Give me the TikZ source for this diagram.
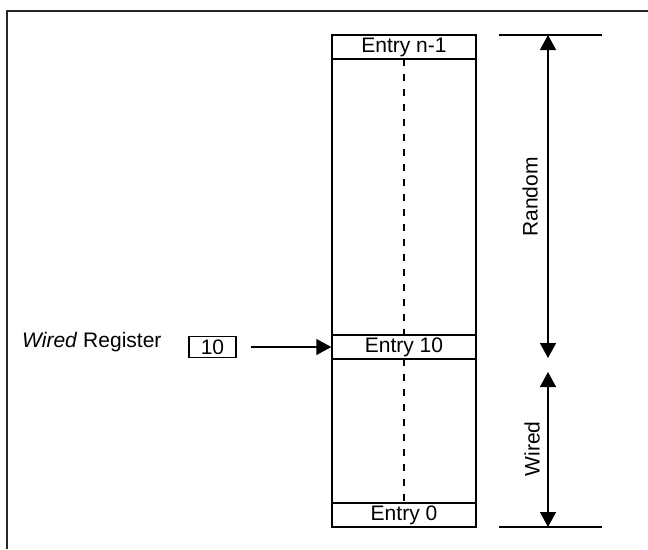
\documentclass[tikz,border=0pt]{standalone}
\usepackage{fontspec}
\setmainfont{Liberation Sans}
\usetikzlibrary{arrows.meta}

\begin{document}
\begin{tikzpicture}[x=1pt, y={(0,-1pt)},
  entrybox/.style={draw, line width=1.4pt, fill=white, minimum width=144pt, minimum height=24pt, inner sep=0pt},
  regbox/.style={draw, line width=1.4pt, minimum width=47pt, minimum height=21pt, inner sep=0pt},
  span/.style={line width=1.4pt, {Triangle[length=15pt,width=16pt]}-{Triangle[length=15pt,width=16pt]}},
  every node/.style={font=\fontsize{21}{25}\selectfont}]
\useasboundingbox (0,0) rectangle (648,549);
% frame
\draw[line width=2pt, black!85] (7,549) -- (7,11) -- (648,11);
% TLB column
\draw[line width=1.4pt] (332,35) rectangle (476,527);
\draw[line width=1.4pt, dashed, dash pattern=on 7pt off 8pt] (404,59) -- (404,503);
\node[entrybox] (en1) at (404,47) {Entry n-1};
\node[entrybox] (e10) at (404,347) {Entry 10};
\node[entrybox] (e0) at (404,515) {Entry 0};
% wired register
\node[anchor=west, inner sep=0pt] (wreg) at (22,342) {\textit{Wired} Register};
\node[regbox] (reg) at (212.5,347) {10};
\draw[line width=1.4pt, -{Triangle[length=15pt,width=16pt]}, shorten <=14pt] (reg.east) -- (e10.west);
% ranges
\coordinate (rtop) at (548,35);
\coordinate (rmid) at (548,358);
\coordinate (wmid) at (548,372);
\coordinate (wbot) at (548,527);
\draw[line width=1.4pt] (499,35) -- (602,35);
\draw[line width=1.4pt] (499,527) -- (602,527);
\draw[span] (rmid) -- (rtop);
\draw[span] (wmid) -- (wbot);
\node[rotate=90, inner sep=0pt] (lrand) at (530,197) {Random};
\node[rotate=90, inner sep=0pt] (lwired) at (532,449) {Wired};
\end{tikzpicture}
\end{document}
